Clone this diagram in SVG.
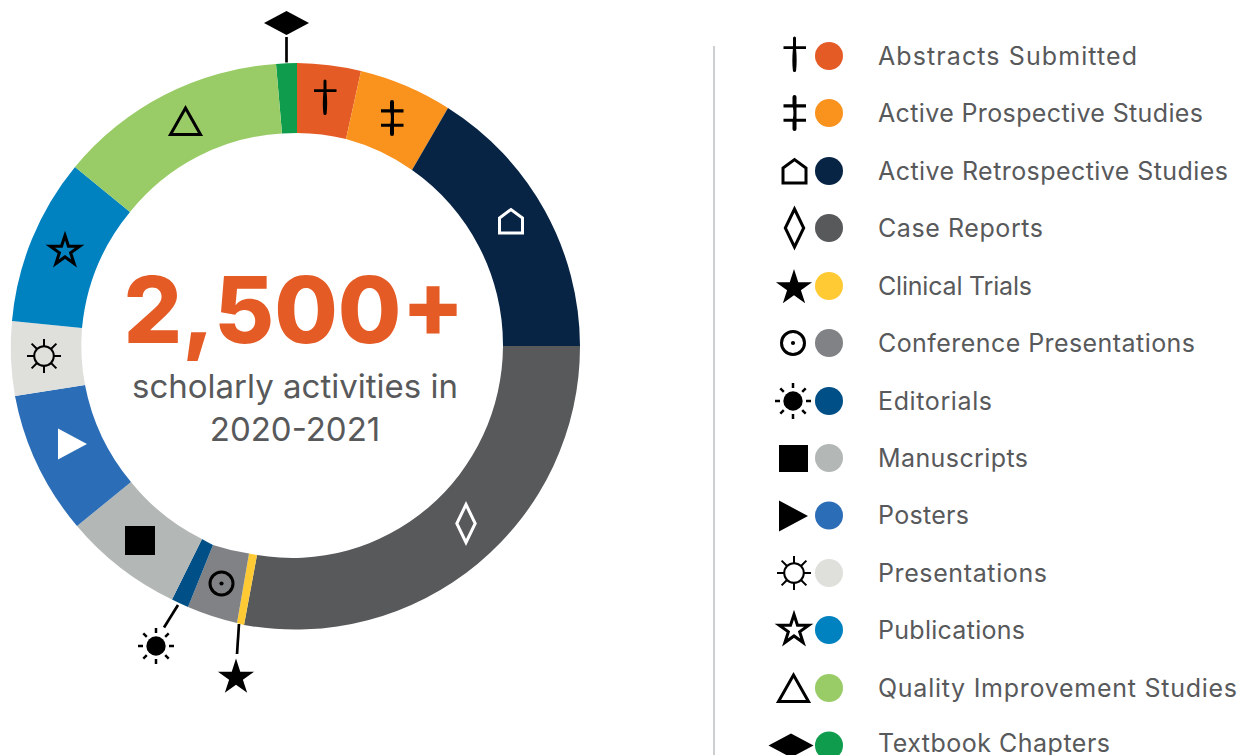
<svg xmlns="http://www.w3.org/2000/svg" xmlns:xlink="http://www.w3.org/1999/xlink" width="1247" height="755" viewBox="0 0 1247 755">
<style>
.lbl{font-family:Inter,"Liberation Sans",sans-serif;font-size:25px;fill:#58595B}
.big{font-family:Inter,"Liberation Sans",sans-serif;font-size:92px;font-weight:800;fill:#E55B25;text-anchor:middle}
.sub{font-family:Inter,"Liberation Sans",sans-serif;font-size:33px;fill:#58595B;text-anchor:middle}
.lead{stroke:#000;stroke-width:2.7;fill:none}
.k{fill:#000}
.ol{fill:none;stroke:#000;stroke-width:3}
.wh{fill:none;stroke:#fff;stroke-width:3}
</style>
<defs>
<path id="dagger" d="M-11,-8.7H-1.5V-17A1.5,1.5 0 0 1 1.5,-17V-8.7H11.5V-5.9H1.6C2.4,2 2.3,10 1.6,15.5A1.6,1.6 0 0 1 -1.6,15.5C-2.3,10 -2.4,2 -1.6,-5.9H-11Z" fill="#000"/>
<path id="ddagger" d="M-11,-8.7H-2V-16A2,2 0 0 1 2,-16V-8.7H11.5V-5.6H2V5.7H11.5V8.8H2V16A2,2 0 0 1 -2,16V8.8H-11V5.7H-1.6C-.9,2 -.9,-2 -1.6,-5.6H-11Z" fill="#000"/>
<path id="house" d="M-11.5,12V-3L0,-11.5L11.5,-3V12Z"/>
<path id="rhomb" d="M0,-19L9.2,0L0,19L-9.2,0Z"/>
<path id="starf" d="M0,-19L4.27,-5.87L18.07,-5.87L6.91,2.24L11.17,15.37L0,7.26L-11.17,15.37L-6.91,2.24L-18.07,-5.87L-4.27,-5.87Z" fill="#000"/>
<path id="staro" d="M0,-15.5L3.48,-4.79L14.74,-4.79L5.63,1.83L9.11,12.54L0,5.92L-9.11,12.54L-5.63,1.83L-14.74,-4.79L-3.48,-4.79Z"/>
<path id="rays" d="M0,-18V-13M0,18V13M-18,0H-13M18,0H13M-12.7,-12.7L-9.2,-9.2M12.7,-12.7L9.2,-9.2M-12.7,12.7L-9.2,9.2M12.7,12.7L9.2,9.2"/>
<g id="sunk"><circle r="9.7" fill="#000"/><use href="#rays" stroke="#000" stroke-width="2.5"/></g>
<g id="suno"><circle r="9.8" fill="none" stroke="#000" stroke-width="2"/><path d="M0,-17V-10M0,17V10M-17,0H-10M17,0H10M-12.4,-12.4L-7,-7M12.4,-12.4L7,-7M-12.4,12.4L-7,7M12.4,12.4L7,7" stroke="#000" stroke-width="2"/></g>
<g id="conf"><circle r="11.5" class="ol"/><circle r="2.1" fill="#000"/></g>
<path id="tri" d="M0,-13L15,13.5H-15Z"/>
<path id="chap" d="M-22.5,0L0,-12L22.5,0L0,12Z" fill="#000"/>
<path id="play" d="M-14.5,-15.5L14.5,0L-14.5,15.5Z"/>
</defs>

<g id="ring">
<g id="slice-textbook"><path fill="#0F9D4D" d="M276,64A285,283 0 0 1 297,63V133A211,213 0 0 0 282,133.5Z"/></g>
<g id="slice-abstracts"><path fill="#E55B25" d="M297,63A285,283 0 0 1 361,71L346,139A211,213 0 0 0 297,133Z"/><use href="#dagger" x="325" y="98"/></g>
<g id="slice-prospective"><path fill="#F9931E" d="M361,71A285,283 0 0 1 448,108L412,170A211,213 0 0 0 346,139Z"/><use href="#ddagger" x="392" y="118"/></g>
<g id="slice-retrospective"><path fill="#072444" d="M448,108A285,283 0 0 1 580,346H503A211,213 0 0 0 412,170Z"/><use href="#house" x="511" y="221" class="wh"/></g>
<g id="slice-case"><path fill="#58595B" d="M580,346A285,283 0 0 1 244,625L257,555A211,213 0 0 0 503,346Z"/><use href="#rhomb" x="466" y="523.500" class="wh"/></g>
<g id="slice-clinical"><path fill="#FFCA33" d="M244,625A285,283 0 0 1 237,623L249,553.500A211,213 0 0 0 257,555Z"/></g>
<g id="slice-conference"><path fill="#808285" d="M237,623A285,283 0 0 1 188,607L213,545A211,213 0 0 0 249,553.500Z"/><use href="#conf" x="221.500" y="583.500"/></g>
<g id="slice-editorials"><path fill="#004F86" d="M188,607A285,283 0 0 1 172,599.500L202,539A211,213 0 0 0 213,545Z"/></g>
<g id="slice-manuscripts"><path fill="#B3B7B6" d="M172,599.500A285,283 0 0 1 77,526L131,482A211,213 0 0 0 202,539Z"/><rect x="125" y="526" width="30" height="29" fill="#000"/></g>
<g id="slice-posters"><path fill="#2B6DB6" d="M77,526A285,283 0 0 1 15,396L85,385A211,213 0 0 0 131,482Z"/><use href="#play" x="72.500" y="444" fill="#fff"/></g>
<g id="slice-presentations"><path fill="#DFE0DB" d="M15,396A285,283 0 0 1 12,321L82,328A211,213 0 0 0 85,385Z"/><use href="#suno" x="44" y="356"/></g>
<g id="slice-publications"><path fill="#0081C0" d="M12,321A285,283 0 0 1 75,167L130,212A211,213 0 0 0 82,328Z"/><use href="#staro" x="65" y="251" class="ol"/></g>
<g id="slice-quality"><path fill="#99CC66" d="M75,167A285,283 0 0 1 276,64L282,133.500A211,213 0 0 0 130,212Z"/><use href="#tri" x="185.500" y="121" class="ol"/></g>
</g>

<g id="connectors">
<path class="lead" d="M286.500,37V62.500"/>
<path class="lead" d="M178,605L164,627.500"/>
<path class="lead" d="M239,624L237,654"/>
</g>
<g id="callouts">
<use href="#chap" x="286.500" y="23"/>
<use href="#sunk" x="156" y="646"/>
<use href="#starf" x="236" y="677.500"/>
</g>

<g id="center-text">
<text class="big" x="294" y="343">2,500+</text>
<text class="sub" x="295" y="398">scholarly activities in</text>
<text class="sub" x="295" y="441">2020-2021</text>
</g>

<line id="divider" x1="714" y1="46" x2="714" y2="755" stroke="#BCBEC0" stroke-width="1.500"/>

<g id="legend">
<g id="lg-abstracts"><use href="#dagger" x="794.500" y="55"/><circle cx="829" cy="56" r="14" fill="#E55B25"/><text class="lbl" x="878" y="65" textLength="259" lengthAdjust="spacing">Abstracts Submitted</text></g>
<g id="lg-prospective"><use href="#ddagger" x="794.500" y="113"/><circle cx="829" cy="113" r="14" fill="#F9931E"/><text class="lbl" x="878" y="122" textLength="325" lengthAdjust="spacing">Active Prospective Studies</text></g>
<g id="lg-retrospective"><use href="#house" x="794.500" y="171" class="ol"/><circle cx="829" cy="171" r="14" fill="#072444"/><text class="lbl" x="878" y="180" textLength="350" lengthAdjust="spacing">Active Retrospective Studies</text></g>
<g id="lg-case"><use href="#rhomb" x="794.500" y="228" class="ol"/><circle cx="829" cy="228" r="14" fill="#58595B"/><text class="lbl" x="878" y="237" textLength="165" lengthAdjust="spacing">Case Reports</text></g>
<g id="lg-clinical"><use href="#starf" x="794" y="288"/><circle cx="829" cy="286" r="14" fill="#FFCA33"/><text class="lbl" x="878" y="295" textLength="154" lengthAdjust="spacing">Clinical Trials</text></g>
<g id="lg-conference"><use href="#conf" x="793" y="343"/><circle cx="829" cy="343" r="14" fill="#808285"/><text class="lbl" x="878" y="352" textLength="317" lengthAdjust="spacing">Conference Presentations</text></g>
<g id="lg-editorials"><use href="#sunk" x="793" y="401"/><circle cx="829" cy="401" r="14" fill="#004F86"/><text class="lbl" x="878" y="410" textLength="114" lengthAdjust="spacing">Editorials</text></g>
<g id="lg-manuscripts"><rect x="779" y="445" width="29" height="27" fill="#000"/><circle cx="829" cy="458" r="14" fill="#B3B7B6"/><text class="lbl" x="878" y="467" textLength="150" lengthAdjust="spacing">Manuscripts</text></g>
<g id="lg-posters"><use href="#play" x="793.500" y="516" fill="#000"/><circle cx="829" cy="515.500" r="14" fill="#2B6DB6"/><text class="lbl" x="878" y="524" textLength="91" lengthAdjust="spacing">Posters</text></g>
<g id="lg-presentations"><use href="#suno" x="794" y="573"/><circle cx="829" cy="573" r="14" fill="#DFE0DB"/><text class="lbl" x="878" y="582" textLength="169" lengthAdjust="spacing">Presentations</text></g>
<g id="lg-publications"><use href="#staro" x="794" y="630" class="ol"/><circle cx="829" cy="630" r="14" fill="#0081C0"/><text class="lbl" x="878" y="639" textLength="147" lengthAdjust="spacing">Publications</text></g>
<g id="lg-quality"><use href="#tri" x="793.500" y="688" class="ol"/><circle cx="829" cy="688" r="14" fill="#99CC66"/><text class="lbl" x="878" y="697" textLength="359" lengthAdjust="spacing">Quality Improvement Studies</text></g>
<g id="lg-textbook"><use href="#chap" x="791" y="745.500"/><circle cx="829" cy="745.500" r="14" fill="#0F9D4D"/><text class="lbl" x="878" y="752" textLength="232" lengthAdjust="spacing">Textbook Chapters</text></g>
</g>
</svg>
